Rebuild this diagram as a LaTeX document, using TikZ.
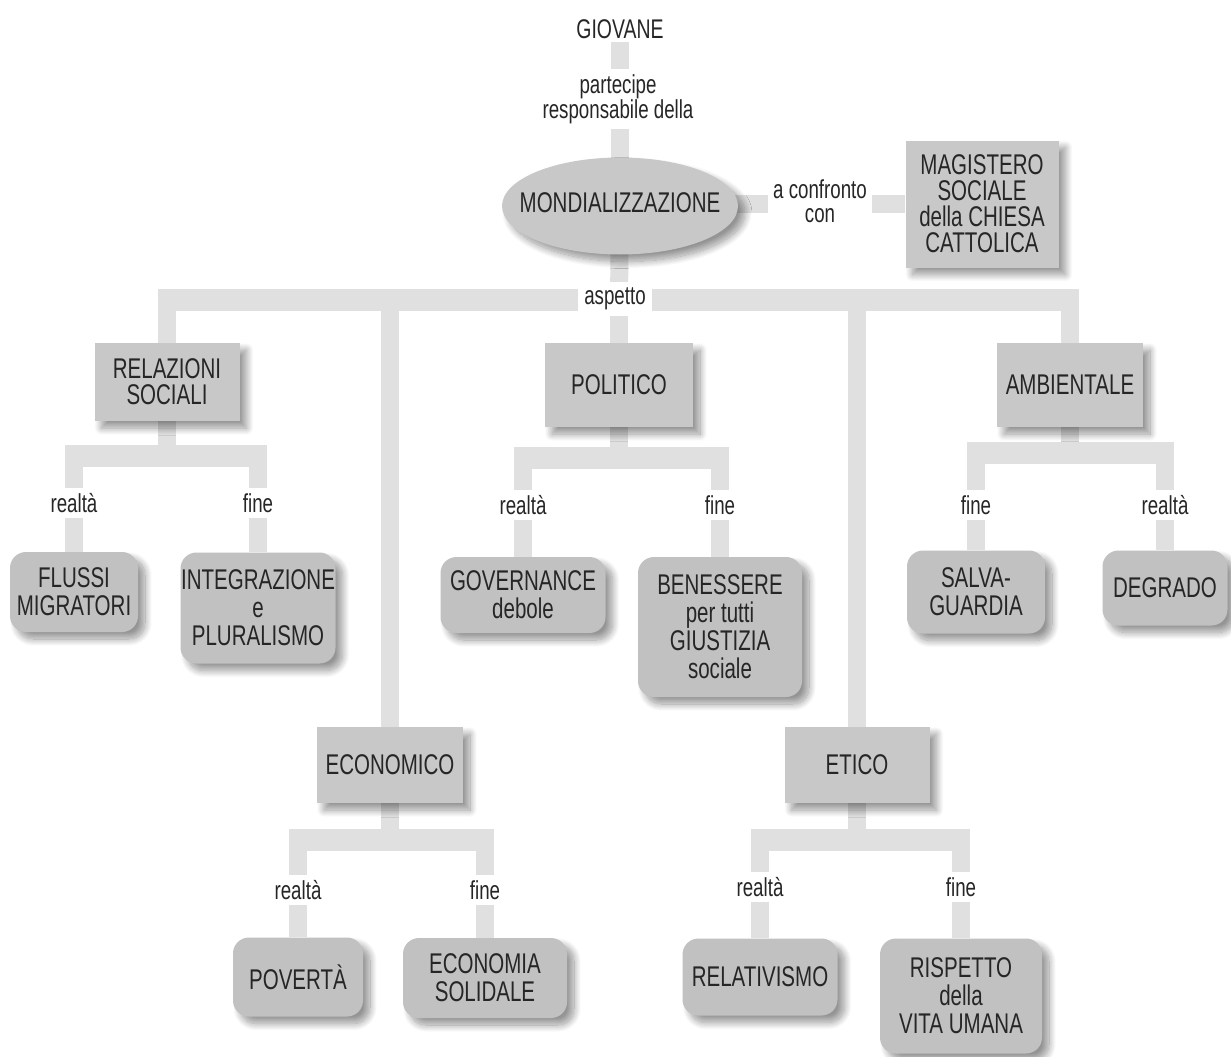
\documentclass[tikz,border=0pt]{standalone}
\usepackage{fontspec}
\setmainfont[FakeStretch=0.72]{Liberation Sans}
\usetikzlibrary{shapes.geometric,shadows.blur,calc}
\definecolor{boxfill}{HTML}{C8C8C8}
\definecolor{rndfill}{HTML}{C1C1C1}
\definecolor{barcol}{HTML}{E0E0E0}
\definecolor{txt}{HTML}{262626}
\pgfdeclarelayer{background}
\pgfsetlayers{background,main}
\begin{document}
\begin{tikzpicture}[x=1pt,y=-1pt,
  every node/.style={text=txt},
  shad/.style={blur shadow={shadow xshift=7pt,shadow yshift=-7pt,shadow blur radius=7pt,shadow blur steps=14,shadow opacity=42}},
  rectbox/.style={shad, fill=boxfill, align=center, inner sep=0pt, font=\fontsize{28.5}{26}\selectfont},
  rndbox/.style={shad, fill=rndfill, rounded corners=16pt, align=center, inner sep=0pt, font=\fontsize{28.5}{28}\selectfont},
  lab/.style={fill=white, align=center, inner sep=5pt, font=\fontsize{26}{24}\selectfont},
  bar/.style={draw=barcol, line width=18pt},
  hbar/.style={draw=barcol, line width=22pt},
]
\useasboundingbox (0,0) rectangle (1231,1057);

% top part
\node[align=center, inner sep=3pt, font=\fontsize{27}{24}\selectfont] (gio) at (620,29) {GIOVANE};
\node[ellipse, shad, fill=boxfill, minimum width=236pt, minimum height=97pt, inner sep=0pt] (mon) at (620,206) {};
\node[font=\fontsize{28.5}{26}\selectfont, inner sep=0pt] (monl) at (620,203) {MONDIALIZZAZIONE};
\node[lab] (lpart) at (618,99) {partecipe\\responsabile della};
\node[rectbox, minimum width=153pt, minimum height=127pt] (mag) at (982,204) {MAGISTERO\\SOCIALE\\della CHIESA\\CATTOLICA};
\node[lab] (lconf) at (820,201) {a confronto\\con};

% aspect boxes
\node[rectbox, minimum width=145pt, minimum height=78pt] (rel) at (167,382) {RELAZIONI\\SOCIALI};
\node[rectbox, minimum width=148pt, minimum height=84pt] (pol) at (619,385) {POLITICO};
\node[rectbox, minimum width=146pt, minimum height=84pt] (amb) at (1070,385) {AMBIENTALE};
\node[rectbox, minimum width=146pt, minimum height=76pt] (eco) at (390,765) {ECONOMICO};
\node[rectbox, minimum width=145pt, minimum height=76pt] (eti) at (857,765) {ETICO};

% leaves
\node[rndbox, minimum width=128pt, minimum height=80pt] (flu) at (74,592) {FLUSSI\\MIGRATORI};
\node[rndbox, minimum width=155pt, minimum height=111pt] (int) at (258,608) {INTEGRAZIONE\\e\\PLURALISMO};
\node[rndbox, minimum width=165pt, minimum height=76pt] (gov) at (523,595) {GOVERNANCE\\debole};
\node[rndbox, minimum width=164pt, minimum height=140pt] (ben) at (720,627) {BENESSERE\\per tutti\\GIUSTIZIA\\sociale};
\node[rndbox, minimum width=138pt, minimum height=83pt] (sal) at (976,592) {SALVA-\\GUARDIA};
\node[rndbox, minimum width=125pt, minimum height=75pt] (deg) at (1165,588) {DEGRADO};
\node[rndbox, minimum width=130pt, minimum height=79pt] (pov) at (298,977) {POVERTÀ};
\node[rndbox, minimum width=164pt, minimum height=80pt] (ecs) at (485,978) {ECONOMIA\\SOLIDALE};
\node[rndbox, minimum width=155pt, minimum height=77pt] (rela) at (760,977) {RELATIVISMO};
\node[rndbox, minimum width=162pt, minimum height=115pt] (ris) at (961,996) {RISPETTO\\della\\VITA UMANA};

% main connectors
\coordinate (tb) at (619,300);
\node[lab, inner sep=6pt] (lasp) at (615,299) {aspetto};
\begin{pgfonlayer}{background}
  \draw[bar] (gio.south) -- (mon.center);
  \draw[bar] (mon.center |- mag.west) -- (mag.west);
  \draw[bar] (mon.center) -- (tb);
  \draw[hbar] ($(rel.north |- tb)+(-9,0)$) -- ($(amb.north |- tb)+(9,0)$);
  \foreach \n in {rel,eco,pol,eti,amb}
    \draw[bar] (\n.north |- tb) -- (\n.north);
\end{pgfonlayer}

% sub trees
\foreach \p/\l/\r/\yb/\yl/\tl/\tr in {
  rel/flu/int/456/503/realtà/fine,
  pol/gov/ben/458/505/realtà/fine,
  amb/sal/deg/453/505/fine/realtà,
  eco/pov/ecs/840/890/realtà/fine,
  eti/rela/ris/840/887/realtà/fine}{
  \coordinate (yb\p) at (0,\yb);
  \coordinate (yl\p) at (0,\yl);
  \node[lab] (la\p) at (\l.north |- yl\p) {\tl};
  \node[lab] (lb\p) at (\r.north |- yl\p) {\tr};
  \begin{pgfonlayer}{background}
    \draw[bar] (\p.south) -- (\p.south |- yb\p);
    \draw[hbar] ($(\l.north |- yb\p)+(-9,0)$) -- ($(\r.north |- yb\p)+(9,0)$);
    \draw[bar] (\l.north |- yb\p) -- (\l.north);
    \draw[bar] (\r.north |- yb\p) -- (\r.north);
  \end{pgfonlayer}
}
\end{tikzpicture}
\end{document}
